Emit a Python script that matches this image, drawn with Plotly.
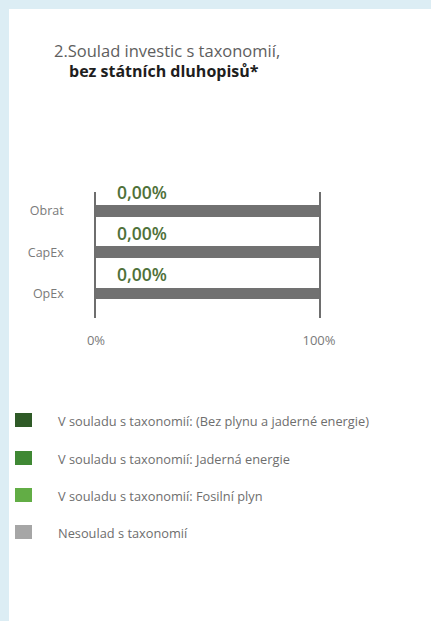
import plotly.graph_objects as go

# ---- data ----
categories = ["Obrat", "CapEx", "OpEx"]
series_names = [
    "V souladu s taxonomií: (Bez plynu a jaderné energie)",
    "V souladu s taxonomií: Jaderná energie",
    "V souladu s taxonomií: Fosilní plyn",
    "Nesoulad s taxonomií",
]
aligned_no_gas_nuclear = [0.0, 0.0, 0.0]
aligned_nuclear = [0.0, 0.0, 0.0]
aligned_fossil_gas = [0.0, 0.0, 0.0]
not_aligned = [100.0, 100.0, 100.0]
x_tick_vals = [0, 100]
x_tick_labels = ["0%", "100%"]
title_line1 = "2.Soulad investic s taxonomií,"
title_line2 = "bez státních dluhopisů*"

series_values = [aligned_no_gas_nuclear, aligned_nuclear, aligned_fossil_gas, not_aligned]
colors = ["#2f5a27", "#3f8834", "#62ad45", "#a6a6a6"]
bar_colors = ["#2f5a27", "#3f8834", "#62ad45", "#717171"]

W, H = 431, 621
L, R, T, B = 96, 112, 192, 303
PW, PH = W - L - R, H - T - B


def px_x(px):
    return (px - L) / PW


def px_y(py):
    return (H - B - py) / PH


fig = go.Figure()
for name, vals, col in zip(series_names, series_values, bar_colors):
    fig.add_trace(go.Bar(
        y=categories, x=vals, name=name, orientation="h",
        marker=dict(color=col, line=dict(width=0)),
        width=0.29, showlegend=False, hoverinfo="skip",
    ))

shapes = [
    # white card over light-blue page
    dict(type="rect", xref="paper", yref="paper",
         x0=px_x(9), x1=px_x(W + 5), y0=px_y(H + 5), y1=px_y(9),
         fillcolor="white", line=dict(width=0), layer="below"),
]
annotations = [
    dict(text=title_line1, xref="paper", yref="paper", x=px_x(52), y=px_y(50),
         xanchor="left", yanchor="middle", showarrow=False,
         font=dict(family="Open Sans", size=16.5, color="#5e5e5e")),
    dict(text="<b>" + title_line2 + "</b>", xref="paper", yref="paper", x=px_x(67), y=px_y(71),
         xanchor="left", yanchor="middle", showarrow=False,
         font=dict(family="Open Sans", size=16, color="#1e1e1e")),
]

# value labels (sum of aligned shares)
for i, cat in enumerate(categories):
    total = aligned_no_gas_nuclear[i] + aligned_nuclear[i] + aligned_fossil_gas[i]
    label = f"{total:.2f}".replace(".", ",") + "%"
    annotations.append(dict(
        text=label, x=0, y=cat, xref="x", yref="y", xanchor="left", yanchor="middle",
        xshift=19, yshift=19, showarrow=False,
        font=dict(family="Open Sans", size=17.5, color="#4f7139", weight=600),
    ))

# custom legend
legend_y = [420, 458, 495, 532]
for name, col, ly in zip(series_names, colors, legend_y):
    shapes.append(dict(type="rect", xref="paper", yref="paper",
                       x0=px_x(15), x1=px_x(32), y0=px_y(ly + 7), y1=px_y(ly - 7),
                       fillcolor=col, line=dict(width=0)))
    annotations.append(dict(text=name, xref="paper", yref="paper", x=px_x(56), y=px_y(ly + 1),
                            xanchor="left", yanchor="middle", showarrow=False,
                            font=dict(family="Open Sans", size=12.8, color="#6e6e6e")))

fig.update_layout(
    width=W, height=H,
    margin=dict(l=L, r=R, t=T, b=B, pad=0),
    barmode="stack",
    paper_bgcolor="#dcedf4",
    plot_bgcolor="white",
    shapes=shapes,
    annotations=annotations,
    xaxis=dict(range=[0, 100], tickvals=x_tick_vals, ticktext=x_tick_labels,
               showgrid=False, zeroline=False, showline=False, ticks="",
               ticklabelstandoff=13,
               tickfont=dict(family="Open Sans", size=13, color="#7a7a7a"), fixedrange=True),
    yaxis=dict(type="category", categoryorder="array", categoryarray=categories[::-1],
               range=[-0.594, 2.46], showgrid=False, zeroline=False,
               showline=True, mirror=True, linecolor="#6e6e6e", linewidth=1.5,
               ticks="", ticklabelstandoff=28,
               tickfont=dict(family="Open Sans", size=12.5, color="#7a7a7a"), fixedrange=True),
    showlegend=False,
)

fig.write_html(
    "out.html",
    config={"displayModeBar": False},
    post_script="document.body.style.margin='0';document.body.style.overflow='hidden';",
)
